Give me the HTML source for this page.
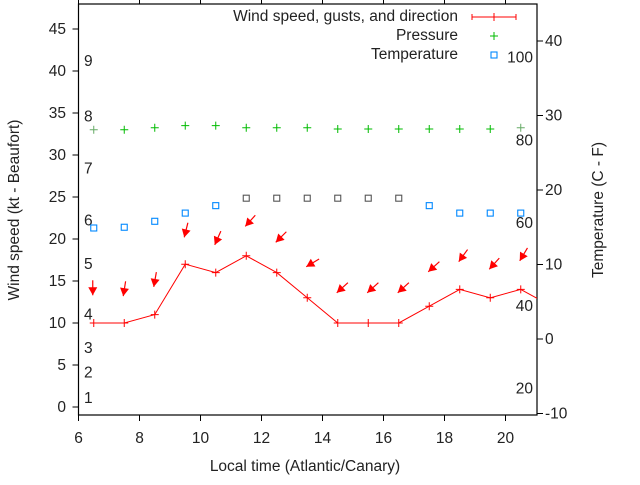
<!DOCTYPE html>
<html><head><meta charset="utf-8"><style>
body{margin:0;background:#fff;}
svg text{font-family:"Liberation Sans",sans-serif;font-size:15.5px;fill:#222;}
</style></head><body>
<svg id="chart" width="640" height="480" viewBox="0 0 640 480" xmlns="http://www.w3.org/2000/svg">
<g id="layer"></g>
</svg>
<script>
const hours = [6.5,7.5,8.5,9.5,10.5,11.5,12.5,13.5,14.5,15.5,16.5,17.5,18.5,19.5,20.5,21.5];
const windSpeed = [10,10,11,17,16,18,16,13,10,10,10,12,14,13,14,12];
const gustHours = [6.5,7.5,8.5,9.5,10.5,11.5,12.5,13.5,14.5,15.5,16.5,17.5,18.5,19.5,20.5];
const gusts = [13.3,13.2,14.3,20.2,19.3,21.5,19.6,16.7,13.6,13.6,13.6,16.1,17.3,16.4,17.4];
const windDir = [0,9,10,14,24,42,45,59,48,48,48,48,36,42,31];
const pressure = [33.0,33.0,33.25,33.5,33.5,33.25,33.25,33.25,33.1,33.1,33.1,33.1,33.1,33.1,33.25];
const temperature = [14.9,15.0,15.8,16.9,17.9,18.9,18.9,18.9,18.9,18.9,18.9,17.9,16.9,16.9,16.9];
const xTicks = [6,8,10,12,14,16,18,20];
const yTicks = [0,5,10,15,20,25,30,35,40,45];
const y2Ticks = [-10,0,10,20,30,40];
const beaufortLabels = ["1","2","3","4","5","6","7","8","9"];
const beaufortAt = [1.1,4.1,7.0,11.0,17.0,22.2,28.4,34.6,41.2];
const fahrLabels = ["20","40","60","80","100"];
const fahrAt = [20,40,60,80,100];

const L=78.5,R=537,T=4,B=415;
const sx=h=>L+(h-6)*30.5;
const sy=v=>407-v*8.4;
const sy2=c=>339-c*7.45;
const NS='http://www.w3.org/2000/svg';
const g=document.getElementById('layer');
function mk(tag,attrs,parent){const e=document.createElementNS(NS,tag);for(const k in attrs)e.setAttribute(k,attrs[k]);(parent||g).appendChild(e);return e;}
function txt(s,x,y,anchor,extra){const t=mk('text',Object.assign({x:x,y:y,'text-anchor':anchor||'start'},extra||{}));t.textContent=s;return t;}

const defs=mk('defs',{});const cp=mk('clipPath',{id:'clip'},defs);mk('rect',{x:L,y:T,width:R-L,height:B-T},cp);

const frame=mk('rect',{x:L,y:T,width:R-L,height:B-T,fill:'none',stroke:'#000','stroke-width':1.2});



xTicks.forEach(v=>{
  mk('line',{x1:sx(v),x2:sx(v),y1:B,y2:B+6,stroke:'#000'});
  mk('line',{x1:sx(v),x2:sx(v),y1:T,y2:T-6,stroke:'#000'});
  const t=txt(String(v),sx(v),443,'middle');
  
  
});
yTicks.forEach(v=>{
  mk('line',{x1:L-6,x2:L,y1:sy(v),y2:sy(v),stroke:'#000'});
  const t=txt(String(v),66,sy(v)+5,'end');
  
  
});
y2Ticks.forEach(v=>{
  mk('line',{x1:R,x2:R+6,y1:sy2(v),y2:sy2(v),stroke:'#000'});
  const t=txt(String(v),545,sy2(v)+5,'start');
  
  
});
beaufortLabels.forEach((s,i)=>{
  const t=txt(s,84,sy(beaufortAt[i])+5,'start');
  
  
});
fahrLabels.forEach((s,i)=>{
  const c=(fahrAt[i]-32)*5/9;
  const t=txt(s,533,sy2(c)+5,'end');
  
  
});

let at=txt('Wind speed (kt - Beaufort)',0,0,'middle',{transform:'translate(19,210) rotate(-90)'});

at=txt('Temperature (C - F)',0,0,'middle',{transform:'translate(603,210) rotate(-90)'});

at=txt('Local time (Atlantic/Canary)',305,471,'middle');


const pg=mk('g',{'clip-path':'url(#clip)'});
const pts=hours.map((h,i)=>sx(h)+','+sy(windSpeed[i])).join(' ');
const line=mk('polyline',{points:pts,fill:'none',stroke:'#f00','stroke-width':1},pg);


hours.forEach((h,i)=>{
  const x=sx(h),y=sy(windSpeed[i]);
  const p=mk('path',{d:`M${x-4},${y}H${x+4}M${x},${y-4}V${y+4}`,stroke:'#f00'},pg);
  
  
});
gustHours.forEach((h,i)=>{
  const hx=sx(h)-1,hy=sy(gusts[i]);
  const a=windDir[i]*Math.PI/180;
  const ux=Math.sin(a),uy=-Math.cos(a);
  const tx=hx+ux*15,ty=hy+uy*15;
  const px=-uy,py=ux;
  const bx=hx+ux*8,by=hy+uy*8;
  const grp=mk('g',{},pg);
  
  
  mk('line',{x1:tx,y1:ty,x2:hx,y2:hy,stroke:'#f00','stroke-width':1.2},grp);
  mk('polygon',{points:`${hx},${hy} ${bx+px*4.5},${by+py*4.5} ${bx-px*4.5},${by-py*4.5}`,fill:'#f00'},grp);
});
gustHours.forEach((h,i)=>{
  const x=sx(h),y=sy(pressure[i]);
  const p=mk('path',{d:`M${x-4},${y}H${x+4}M${x},${y-4}V${y+4}`,stroke:(i==0||i==14)?'#6a6':'#0b0'},pg);
  
  
});
gustHours.forEach((h,i)=>{
  const x=sx(h),y=sy2(temperature[i]);
  const r=mk('rect',{x:x-3,y:y-3,width:6,height:6,fill:'none',stroke:(i>=5&&i<=10)?'#555':'#08f','stroke-width':1.1},pg);
  
  
});

const lg=mk('g',{});


txt('Wind speed, gusts, and direction',458,21,'end');
mk('path',{d:'M472,17H516M472,14V20M516,14V20M494,13V21',stroke:'#f00'},lg);
txt('Pressure',458,40,'end');
mk('path',{d:'M490,36H498M494,32V40',stroke:'#0b0'},lg);
txt('Temperature',458,59,'end');
mk('rect',{x:491,y:52,width:6,height:6,fill:'none',stroke:'#08f','stroke-width':1.1},lg);
</script>
</body></html>
